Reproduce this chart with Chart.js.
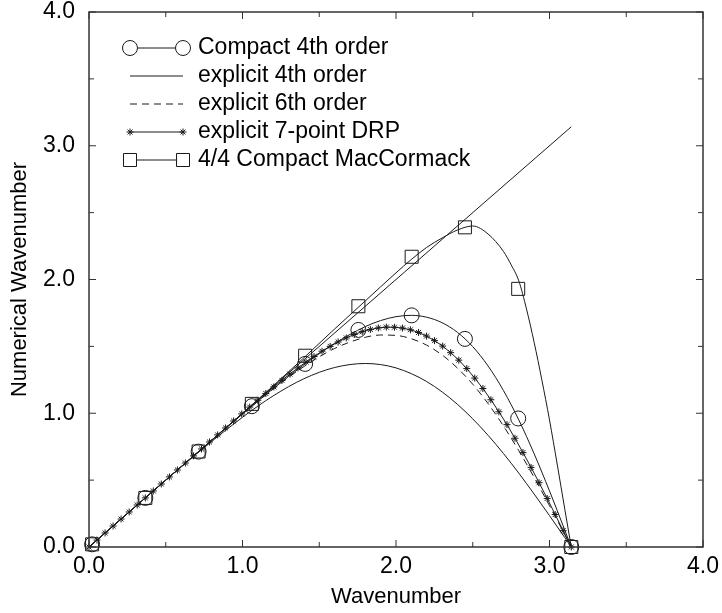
<!DOCTYPE html>
<html>
<head>
<meta charset="utf-8">
<script src="https://cdn.jsdelivr.net/npm/chart.js@4.4.1/dist/chart.umd.min.js"></script>
<style>
html,body{margin:0;padding:0;background:#fff;}
canvas{display:block;}
</style>
</head>
<body>
<canvas id="c" width="722" height="613"></canvas>
<script>
// ---------------- data ----------------
const xTickLabels = ['0.0', '1.0', '2.0', '3.0', '4.0'];
const yTickLabels = ['0.0', '1.0', '2.0', '3.0', '4.0'];
const tickMarkValues = [0, 0.5, 1, 1.5, 2, 2.5, 3, 3.5, 4];

const legendLabels = ['Compact 4th order', 'explicit 4th order', 'explicit 6th order',
                      'explicit 7-point DRP', '4/4 Compact MacCormack'];

// exact relation (straight line)
const exactX = [0, 3.1416];
const exactY = [0, 3.1416];

// smooth curves
const curveX   = [0,0.2,0.4,0.6,0.8,1.0,1.2,1.4,1.6,1.8,1.9,2.0,2.1,2.2,2.3,2.4,2.5,2.6,2.7,2.8,2.9,3.0,3.1,3.1416];
const exp4Y    = [0,0.200,0.400,0.598,0.790,0.970,1.130,1.258,1.342,1.372,1.364,1.339,1.296,1.237,1.160,1.067,0.958,0.835,0.699,0.552,0.396,0.235,0.069,0];
const exp6Y    = [0,0.200,0.400,0.600,0.799,0.994,1.181,1.349,1.484,1.568,1.585,1.582,1.557,1.509,1.436,1.338,1.217,1.072,0.905,0.720,0.520,0.309,0.091,0];
const compactY = [0,0.200,0.400,0.600,0.798,0.994,1.184,1.362,1.522,1.648,1.693,1.722,1.732,1.718,1.677,1.605,1.498,1.353,1.170,0.950,0.697,0.419,0.125,0];

const macX = [0,0.35,0.7,1.0,1.2,1.4,1.6,1.8,2.0,2.1,2.2,2.3,2.4,2.5,2.6,2.7,2.75,2.8,2.85,2.9,2.95,3.0,3.05,3.1,3.1416];
const macY = [0,0.35,0.70,1.00,1.205,1.415,1.63,1.84,2.05,2.15,2.24,2.31,2.37,2.40,2.34,2.21,2.11,1.99,1.78,1.53,1.25,0.95,0.62,0.28,0];

// explicit 7-point DRP (curve drawn with star markers at every sample)
const drpX = [0,0.052,0.105,0.157,0.209,0.262,0.314,0.367,0.419,0.471,0.524,0.576,0.628,0.681,0.733,0.785,0.838,0.890,0.942,0.995,1.047,
              1.100,1.152,1.204,1.257,1.309,1.361,1.414,1.466,1.518,1.571,1.623,1.676,1.728,1.780,1.833,1.885,1.937,1.990,2.042,2.094,
              2.147,2.199,2.251,2.304,2.356,2.409,2.461,2.513,2.566,2.618,2.670,2.723,2.775,2.827,2.880,2.932,2.985,3.037,3.089,3.142];
const drpY = [0,0.052,0.105,0.157,0.209,0.262,0.314,0.367,0.419,0.471,0.524,0.576,0.628,0.681,0.733,0.785,0.838,0.890,0.942,0.995,1.046,
              1.097,1.148,1.197,1.246,1.293,1.339,1.383,1.424,1.464,1.500,1.533,1.563,1.589,1.610,1.626,1.638,1.644,1.643,1.637,1.624,
              1.604,1.577,1.543,1.502,1.453,1.397,1.334,1.263,1.185,1.101,1.011,0.915,0.813,0.706,0.595,0.481,0.363,0.243,0.122,0];

// marker positions
const markX       = [0.02,0.367,0.714,1.061,1.408,1.755,2.102,2.449,2.796,3.142];
const circleMarkY = [0.02,0.367,0.713,1.053,1.369,1.623,1.732,1.556,0.961,0];
const squareMarkY = [0.02,0.367,0.714,1.07,1.43,1.80,2.17,2.39,1.93,0];

// ---------------- chart ----------------
const FONT = "'Liberation Sans', Arial, Helvetica, sans-serif";
const INK = '#1a1a1a';
const pts = (xs, ys) => xs.map((x, i) => ({x: x, y: ys[i]}));

const lineBase = {showLine: true, pointRadius: 0, borderWidth: 1, borderColor: INK,
                  cubicInterpolationMode: 'monotone', fill: false, clip: false};
const markBase = {showLine: false, borderColor: INK, backgroundColor: 'rgba(0,0,0,0)',
                  pointBorderColor: INK, pointBackgroundColor: 'rgba(0,0,0,0)',
                  pointBorderWidth: 1, clip: false};

const datasets = [
  Object.assign({}, lineBase, {label: 'exact', data: pts(exactX, exactY), cubicInterpolationMode: 'default', tension: 0}),
  Object.assign({}, lineBase, {label: legendLabels[0], data: pts(curveX, compactY)}),
  Object.assign({}, markBase, {label: legendLabels[0] + ' markers', data: pts(markX, circleMarkY), pointStyle: 'circle', pointRadius: 7.5}),
  Object.assign({}, lineBase, {label: legendLabels[1], data: pts(curveX, exp4Y)}),
  Object.assign({}, lineBase, {label: legendLabels[2], data: pts(curveX, exp6Y), borderDash: [7, 5]}),
  Object.assign({}, lineBase, {label: legendLabels[3], data: pts(drpX, drpY), pointStyle: 'star', pointRadius: 3.5,
                               pointBorderWidth: 1, pointBorderColor: INK, tension: 0, cubicInterpolationMode: 'default'}),
  Object.assign({}, lineBase, {label: legendLabels[4], data: pts(macX, macY)}),
  Object.assign({}, markBase, {label: legendLabels[4] + ' markers', data: pts(markX, squareMarkY), pointStyle: 'rect', pointRadius: 9.2})
];

function drawMarker(ctx, style, r, x, y) {
  ctx.beginPath();
  if (style === 'circle') {
    ctx.arc(x, y, r, 0, Math.PI * 2);
  } else if (style === 'rect') {
    const s = r * Math.SQRT1_2;
    ctx.rect(x - s, y - s, 2 * s, 2 * s);
  } else if (style === 'star') {
    for (let k = 0; k < 4; k++) {
      const a = k * Math.PI / 4;
      ctx.moveTo(x - r * Math.cos(a), y - r * Math.sin(a));
      ctx.lineTo(x + r * Math.cos(a), y + r * Math.sin(a));
    }
  }
  ctx.stroke();
}

const legendRows = [
  {dash: [], marker: 'circle', r: 7.5},
  {dash: [], marker: null, r: 0},
  {dash: [7, 5], marker: null, r: 0},
  {dash: [], marker: 'star', r: 3.5},
  {dash: [], marker: 'rect', r: 9.2}
];

const framePlugin = {
  id: 'frameAndLegend',
  afterDraw(chart) {
    const {ctx, chartArea: a, scales} = chart;
    const xs = scales.x, ys = scales.y;
    ctx.save();
    // frame
    ctx.strokeStyle = '#333';
    ctx.lineWidth = 1.5;
    ctx.strokeRect(a.left, a.top, a.right - a.left, a.bottom - a.top);
    // inward ticks on all four sides
    ctx.lineWidth = 1;
    ctx.beginPath();
    tickMarkValues.forEach(v => {
      const len = (v % 1 === 0) ? 7 : 5;
      const px = xs.getPixelForValue(v);
      const py = ys.getPixelForValue(v);
      ctx.moveTo(px, a.bottom); ctx.lineTo(px, a.bottom - len);
      ctx.moveTo(px, a.top);    ctx.lineTo(px, a.top + len);
      ctx.moveTo(a.left, py);   ctx.lineTo(a.left + len, py);
      ctx.moveTo(a.right, py);  ctx.lineTo(a.right - len, py);
    });
    ctx.stroke();

    // legend
    const x0 = 130, x1 = 183, tx = 198, y0 = 48, dy = 28;
    ctx.font = '23px ' + FONT;
    ctx.textBaseline = 'middle';
    ctx.textAlign = 'left';
    legendRows.forEach((row, i) => {
      const y = y0 + i * dy;
      ctx.strokeStyle = INK;
      ctx.lineWidth = 1;
      ctx.setLineDash(row.dash);
      const inset = (row.marker === 'circle' || row.marker === 'rect') ? row.r * (row.marker === 'rect' ? Math.SQRT1_2 : 1) : 0;
      ctx.beginPath();
      ctx.moveTo(x0 + inset, y);
      ctx.lineTo(x1 - inset, y);
      ctx.stroke();
      ctx.setLineDash([]);
      if (row.marker) {
        drawMarker(ctx, row.marker, row.r, x0, y);
        drawMarker(ctx, row.marker, row.r, x1, y);
      }
      ctx.fillStyle = '#000';
      ctx.fillText(legendLabels[i], tx, y);
    });
    ctx.restore();
  }
};

new Chart(document.getElementById('c'), {
  type: 'scatter',
  data: {datasets: datasets},
  plugins: [framePlugin],
  options: {
    responsive: false,
    devicePixelRatio: 1,
    animation: false,
    layout: {padding: {left: 0, right: 19, top: 12, bottom: 0}},
    plugins: {legend: {display: false}, tooltip: {enabled: false}},
    scales: {
      x: {
        type: 'linear', min: 0, max: 4,
        grid: {display: false, drawTicks: false},
        border: {display: false},
        ticks: {
          stepSize: 1, autoSkip: false, maxRotation: 0, padding: 6, color: '#000',
          font: {family: FONT, size: 23},
          callback: (v, i) => xTickLabels[i]
        },
        title: {display: true, text: 'Wavenumber', color: '#000',
                font: {family: FONT, size: 22}, padding: {top: 0, bottom: 3}},
        afterFit: s => { s.height = 66; s.paddingLeft = 0; s.paddingRight = 0; }
      },
      y: {
        type: 'linear', min: 0, max: 4,
        grid: {display: false, drawTicks: false},
        border: {display: false},
        ticks: {
          stepSize: 1, autoSkip: false, padding: 14, color: '#000',
          font: {family: FONT, size: 23},
          callback: (v, i) => yTickLabels[i]
        },
        title: {display: true, text: 'Numerical Wavenumber', color: '#000',
                font: {family: FONT, size: 22}, padding: {top: 7, bottom: 0}},
        afterFit: s => { s.width = 89; s.paddingTop = 0; s.paddingBottom = 0; }
      }
    }
  }
});
</script>
</body>
</html>
